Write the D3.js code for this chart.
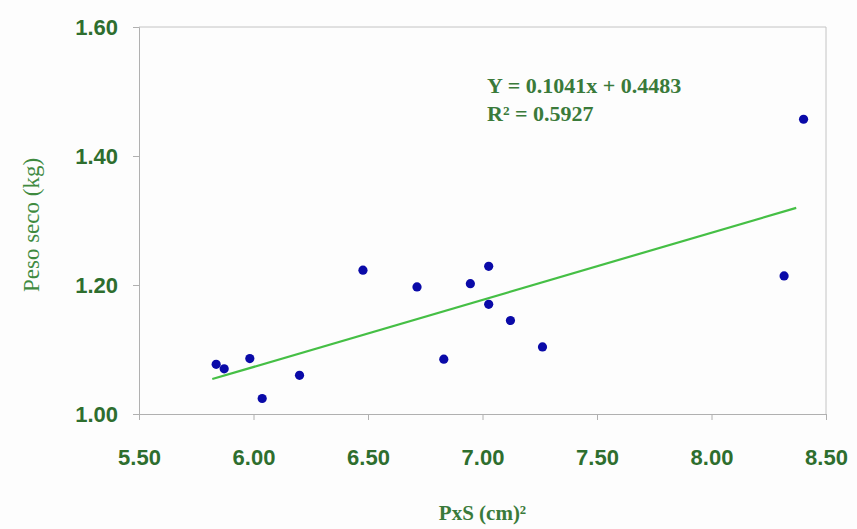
<!DOCTYPE html>
<html>
<head>
<meta charset="utf-8">
<script src="https://cdn.jsdelivr.net/npm/d3@7"></script>
<style>
  body { margin: 0; background: #fdfdfd; }
  .axis path, .axis line { stroke: #b0b0b0; }
  .tick-label { font-family: "Liberation Sans", Arial, sans-serif; font-weight: bold; font-size: 22px; fill: #2e6e2e; }
</style>
</head>
<body>
<div id="chart"></div>
<script>
// 数据
const pxs = [5.837, 5.872, 5.984, 6.038, 6.201, 6.478, 6.714, 6.831, 6.947, 7.027, 7.027, 7.122, 7.262, 8.317, 8.402];
const pesoSeco = [1.077, 1.070, 1.086, 1.024, 1.060, 1.223, 1.197, 1.085, 1.202, 1.229, 1.170, 1.145, 1.104, 1.214, 1.457];
const xTicks = [5.5, 6.0, 6.5, 7.0, 7.5, 8.0, 8.5];
const yTicks = [1.0, 1.2, 1.4, 1.6];
const trendX = [5.82, 8.37];
const slope = 0.1041, intercept = 0.4483;
const eqLines = ['Y = 0.1041x + 0.4483', 'R² = 0.5927'];

const width = 857, height = 529;
const margin = { top: 27, right: 31, bottom: 115, left: 139 };
const innerW = width - margin.left - margin.right;
const innerH = height - margin.top - margin.bottom;

const svg = d3.select('#chart').append('svg')
  .attr('width', width)
  .attr('height', height);

const g = svg.append('g')
  .attr('transform', `translate(${margin.left}, ${margin.top})`);

const x = d3.scaleLinear().domain([5.5, 8.5]).range([0, innerW]);
const y = d3.scaleLinear().domain([1.0, 1.6]).range([innerH, 0]);

// 边框 (上/右)
g.append('line').attr('x1', 0).attr('x2', innerW).attr('y1', 0).attr('y2', 0)
  .attr('stroke', '#c4c4c4');
g.append('line').attr('x1', innerW).attr('x2', innerW).attr('y1', 0).attr('y2', innerH)
  .attr('stroke', '#c4c4c4');

// X轴
const xAxis = g.append('g')
  .attr('class', 'axis')
  .attr('transform', `translate(0, ${innerH})`)
  .call(d3.axisBottom(x).tickValues(xTicks).tickFormat(d3.format('.2f')).tickSize(6).tickPadding(29));
xAxis.selectAll('text').attr('class', 'tick-label').attr('font-size', null).attr('font-family', null).attr('fill', null);

// Y轴
const yAxis = g.append('g')
  .attr('class', 'axis')
  .call(d3.axisLeft(y).tickValues(yTicks).tickFormat(d3.format('.2f')).tickSize(6).tickPadding(15));
yAxis.selectAll('text').attr('class', 'tick-label').attr('font-size', null).attr('font-family', null).attr('fill', null);

// 趋势线
g.append('line')
  .attr('x1', x(trendX[0])).attr('y1', y(slope * trendX[0] + intercept))
  .attr('x2', x(trendX[1])).attr('y2', y(slope * trendX[1] + intercept))
  .attr('stroke', '#45bf45')
  .attr('stroke-width', 2.2);

// 散点
g.selectAll('.dot')
  .data(pxs.map((v, i) => [v, pesoSeco[i]]))
  .enter()
  .append('circle')
  .attr('class', 'dot')
  .attr('cx', d => x(d[0]))
  .attr('cy', d => y(d[1]))
  .attr('r', 4.6)
  .attr('fill', '#0a0aa8');

// 方程
g.selectAll('.eq')
  .data(eqLines)
  .enter()
  .append('text')
  .attr('class', 'eq')
  .attr('x', x(7.02))
  .attr('y', (d, i) => y(1.497) + i * 28)
  .style('font-family', '"Liberation Serif", "Times New Roman", serif')
  .style('font-weight', 'bold')
  .style('font-size', '22px')
  .style('fill', '#3a7a3a')
  .text(d => d);

// 轴标题
svg.append('text')
  .attr('x', margin.left + innerW / 2)
  .attr('y', 520)
  .attr('text-anchor', 'middle')
  .style('font-family', '"Liberation Serif", "Times New Roman", serif')
  .style('font-weight', 'bold')
  .style('font-size', '21px')
  .style('fill', '#3a7a3a')
  .text('PxS (cm)²');

svg.append('text')
  .attr('transform', 'rotate(-90)')
  .attr('x', -225)
  .attr('y', 39)
  .attr('text-anchor', 'middle')
  .style('font-family', '"Liberation Serif", "Times New Roman", serif')
  .style('font-size', '23px')
  .style('fill', '#3f8a3f')
  .text('Peso seco (kg)');
</script>
</body>
</html>
